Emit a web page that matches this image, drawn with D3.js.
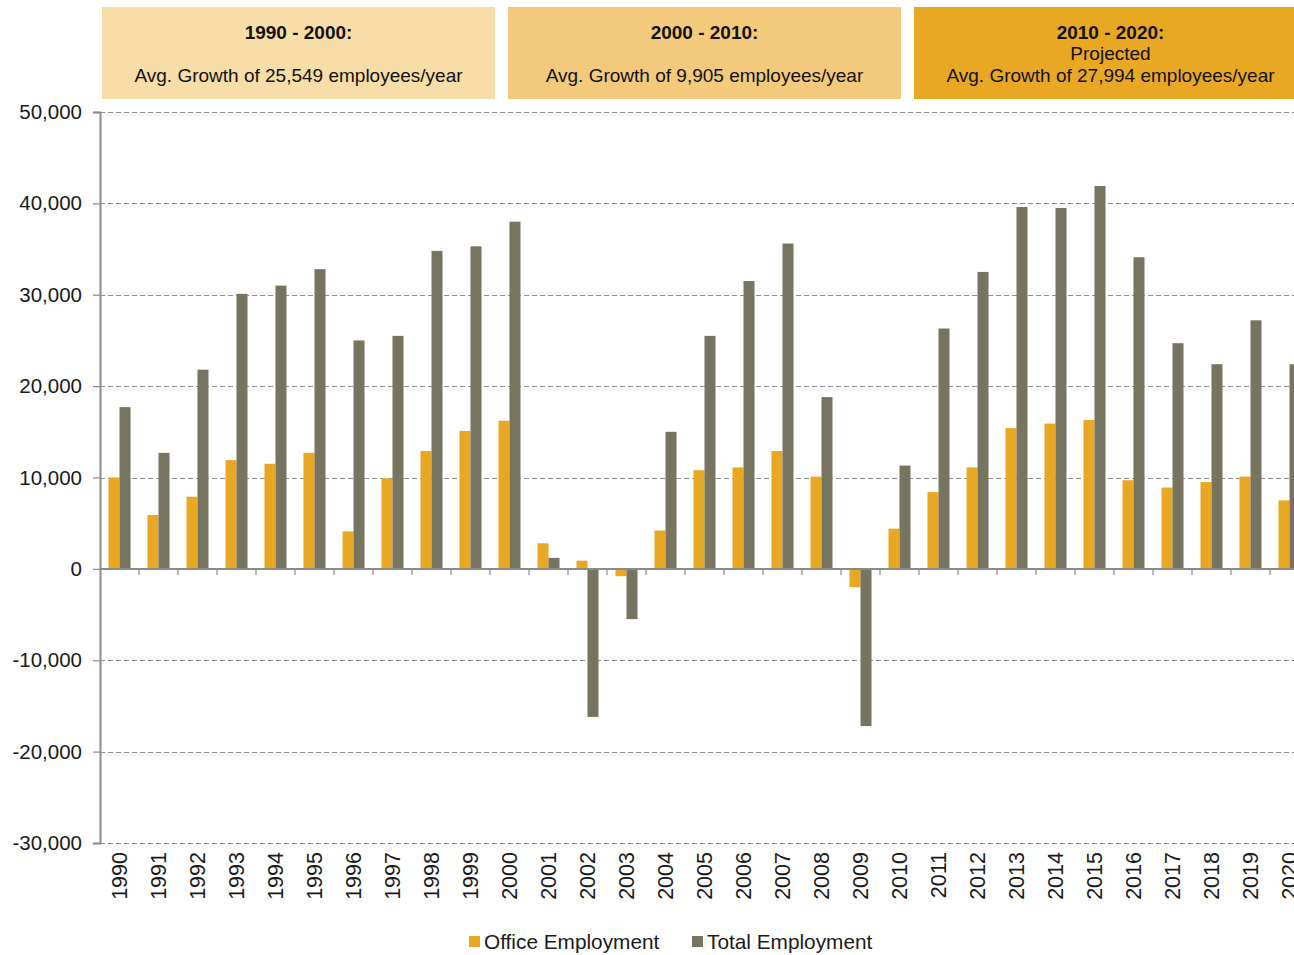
<!DOCTYPE html>
<html>
<head>
<meta charset="utf-8">
<script src="https://cdn.jsdelivr.net/npm/d3@7"></script>
<style>
  html, body { margin: 0; padding: 0; background: #fff; }
  svg { display: block; font-family: "Liberation Sans", Arial, sans-serif; }
</style>
</head>
<body>
<svg id="chart" width="1294" height="955"></svg>
<script>
// Annual employment change, 1990–2020 (2011 onward projected)
const years = ["1990","1991","1992","1993","1994","1995","1996","1997","1998","1999","2000",
               "2001","2002","2003","2004","2005","2006","2007","2008","2009","2010",
               "2011","2012","2013","2014","2015","2016","2017","2018","2019","2020"];
const officeEmployment = [10000, 5900, 7900, 11900, 11500, 12700, 4100, 9900, 12900, 15100, 16200,
                          2800, 900, -800, 4200, 10800, 11100, 12900, 10100, -2000, 4400,
                          8400, 11100, 15400, 15900, 16300, 9700, 8900, 9500, 10100, 7500];
const totalEmployment  = [17700, 12700, 21800, 30100, 31000, 32800, 25000, 25500, 34800, 35300, 38000,
                          1200, -16200, -5500, 15000, 25500, 31500, 35600, 18800, -17200, 11300,
                          26300, 32500, 39600, 39500, 41900, 34100, 24700, 22400, 27200, 22400];
const seriesNames = ["Office Employment", "Total Employment"];
const seriesColors = ["#E9A823", "#77755F"];
const yTicks = [50000, 40000, 30000, 20000, 10000, 0, -10000, -20000, -30000];

// Decade summary panels
const panelTitles = ["1990 - 2000:", "2000 - 2010:", "2010 - 2020:"];
const panelNotes  = ["", "", "Projected"];
const panelGrowth = [25549, 9905, 27994];
const panelColors = ["#F7DDA7", "#F3CA7B", "#E9A823"];

const svg = d3.select("#chart");
const W = 1294;

const plotLeft = 100, plotTop = 112, plotBottom = 843;
const band = 39;

const x = d3.scaleBand().domain(years).range([plotLeft, plotLeft + band * years.length]).padding(0);
const xs = d3.scaleBand().domain(seriesNames).range([8.5, 30.5]).padding(0);
const y = d3.scaleLinear().domain([-30000, 50000]).range([plotBottom, plotTop]);
const fmt = v => d3.format(",")(v).replace("\u2212", "-");

// Gridlines
svg.append("g").selectAll("line")
  .data(yTicks.filter(t => t !== 0))
  .join("line")
  .attr("x1", plotLeft).attr("x2", W)
  .attr("y1", d => Math.round(y(d)) + 0.5).attr("y2", d => Math.round(y(d)) + 0.5)
  .attr("stroke", "#8f8f8f").attr("stroke-width", 1.2)
  .attr("stroke-dasharray", "5,3");

// Y axis
const yAxis = d3.axisLeft(y).tickValues(yTicks).tickFormat(fmt).tickSize(7).tickPadding(11);
const gy = svg.append("g").attr("transform", `translate(${plotLeft},0)`).call(yAxis);
gy.select(".domain").attr("stroke", "#8a8a8a").attr("stroke-width", 2);
gy.selectAll(".tick line").attr("stroke", "#8a8a8a").attr("stroke-width", 1.2);
gy.selectAll(".tick text").attr("font-size", 20.5).attr("fill", "#1a1a1a")
  .attr("font-family", "'Liberation Sans', Arial, sans-serif");

// Bars
const data = years.map((yr, i) => ({ year: yr, values: [officeEmployment[i], totalEmployment[i]] }));
svg.append("g").selectAll("g")
  .data(data)
  .join("g")
  .attr("transform", d => `translate(${x(d.year)},0)`)
  .selectAll("rect")
  .data(d => d.values.map((v, k) => ({ v, k })))
  .join("rect")
  .attr("x", d => xs(seriesNames[d.k]))
  .attr("width", xs.bandwidth())
  .attr("y", d => y(Math.max(0, d.v)))
  .attr("height", d => Math.abs(y(d.v) - y(0)))
  .attr("fill", d => seriesColors[d.k]);

// Zero line with category ticks
const y0 = y(0);
svg.append("line")
  .attr("x1", plotLeft).attr("x2", W)
  .attr("y1", y0).attr("y2", y0)
  .attr("stroke", "#8a8a8a").attr("stroke-width", 2);
svg.append("g").selectAll("line")
  .data(years.slice(1))
  .join("line")
  .attr("x1", d => x(d)).attr("x2", d => x(d))
  .attr("y1", y0).attr("y2", y0 + 6)
  .attr("stroke", "#8a8a8a").attr("stroke-width", 1.2);

// Year labels
svg.append("g").selectAll("text")
  .data(years)
  .join("text")
  .attr("transform", d => `translate(${x(d) + band / 2},852) rotate(-90)`)
  .attr("text-anchor", "end")
  .attr("dy", "0.35em")
  .attr("font-size", 21.5)
  .attr("fill", "#1a1a1a")
  .text(d => d);

// Decade panels
const panelX = [102, 508, 914];
const panelW = 393;
const panels = svg.append("g").selectAll("g")
  .data(panelTitles.map((t, i) => ({ t, note: panelNotes[i], g: panelGrowth[i], c: panelColors[i], x: panelX[i] })))
  .join("g");
panels.append("rect")
  .attr("x", d => d.x).attr("y", 7)
  .attr("width", panelW).attr("height", 92)
  .attr("fill", d => d.c);
panels.append("text")
  .attr("x", d => d.x + panelW / 2).attr("y", 39)
  .attr("text-anchor", "middle").attr("font-size", 19).attr("font-weight", "bold")
  .attr("fill", "#111")
  .text(d => d.t);
panels.filter(d => d.note).append("text")
  .attr("x", d => d.x + panelW / 2).attr("y", 60)
  .attr("text-anchor", "middle").attr("font-size", 19)
  .attr("fill", "#111")
  .text(d => d.note);
panels.append("text")
  .attr("x", d => d.x + panelW / 2).attr("y", 82)
  .attr("text-anchor", "middle").attr("font-size", 19)
  .attr("fill", "#111")
  .text(d => `Avg. Growth of ${fmt(d.g)} employees/year`);

// Legend
const legendX = [469, 692];
const legend = svg.append("g").selectAll("g")
  .data(seriesNames)
  .join("g")
  .attr("transform", (d, i) => `translate(${legendX[i]},936)`);
legend.append("rect").attr("width", 11).attr("height", 11)
  .attr("fill", (d, i) => seriesColors[i]);
legend.append("text").attr("x", 15).attr("y", 13)
  .attr("font-size", 20.8).attr("fill", "#1a1a1a")
  .text(d => d);
</script>
</body>
</html>
